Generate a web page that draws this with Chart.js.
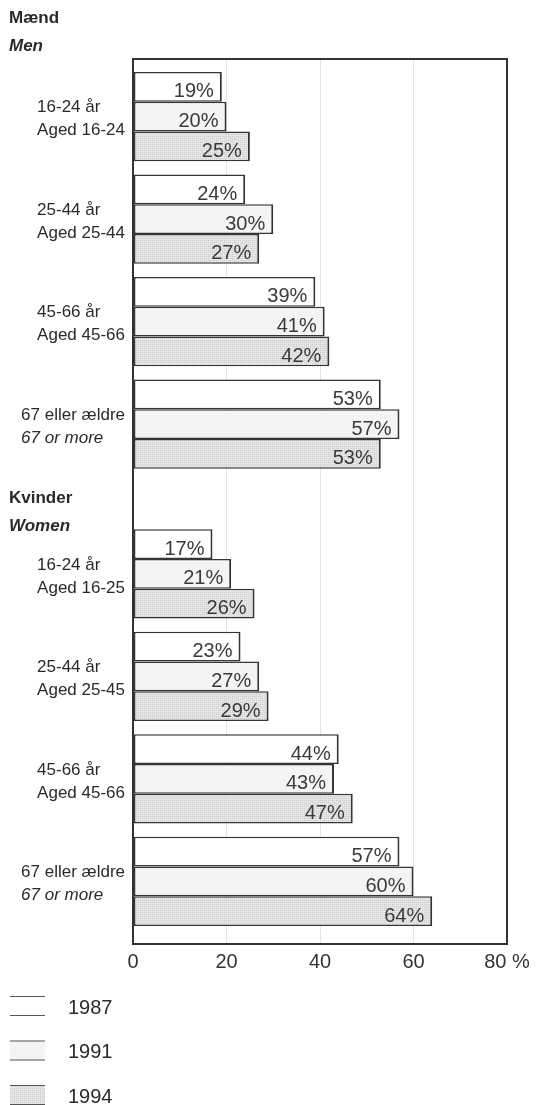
<!DOCTYPE html>
<html>
<head>
<meta charset="utf-8">
<title>Mænd / Kvinder 1987-1994</title>
<script src="https://cdn.jsdelivr.net/npm/chart.js@4.4.1/dist/chart.umd.min.js"></script>
<style>
  html, body { margin: 0; padding: 0; background: #fff; }
</style>
</head>
<body>
<canvas id="surveyChart" width="539" height="1105"></canvas>
<script>
// chart data
const sectionTitles = ["Mænd", "Kvinder"];
const sectionSubtitles = ["Men", "Women"];
const groupLabelsDa = ["16-24 år", "25-44 år", "45-66 år", "67 eller ældre",
                       "16-24 år", "25-44 år", "45-66 år", "67 eller ældre"];
const groupLabelsEn = ["Aged 16-24", "Aged 25-44", "Aged 45-66", "67 or more",
                       "Aged 16-25", "Aged 25-45", "Aged 45-66", "67 or more"];
const years = ["1987", "1991", "1994"];
const values1987 = [19, 24, 39, 53, 17, 23, 44, 57];
const values1991 = [20, 30, 41, 57, 21, 27, 43, 60];
const values1994 = [25, 27, 42, 53, 26, 29, 47, 64];
const xTickValues = [0, 20, 40, 60, 80];

// layout / style
const FONT = "'Liberation Sans', Arial, Helvetica, sans-serif";
const GROUPS_PER_SECTION = 4;
const SECTION_GAP = 0.46;          // extra room for the "Kvinder / Women" heading
const italicEnglishRows = new Set([3, 7]);

function slotOf(i) {
  return i < GROUPS_PER_SECTION ? i : i + SECTION_GAP;
}

function dotPattern() {
  const c = document.createElement("canvas");
  c.width = 2;
  c.height = 2;
  const g = c.getContext("2d");
  g.fillStyle = "#e5e5e5";
  g.fillRect(0, 0, 2, 2);
  g.fillStyle = "#cdcdcd";
  g.fillRect(0, 0, 1, 1);
  return g.createPattern(c, "repeat");
}

const fills = ["#ffffff", "#f4f4f4", dotPattern()];
const seriesValues = [values1987, values1991, values1994];

const datasets = years.map((year, k) => ({
  label: year,
  data: seriesValues[k].map((v, i) => ({ x: v, y: slotOf(i) })),
  backgroundColor: fills[k],
  borderColor: "#353535",
  borderWidth: { top: 1.5, bottom: 1.5, left: 2, right: 2 },
  borderSkipped: false,
  categoryPercentage: 0.87,
  barPercentage: 1.0,
}));

const groupSlots = groupLabelsDa.map((_, i) => slotOf(i));

const plotFrame = {
  id: "plotFrame",
  afterDatasetsDraw(chart) {
    const { ctx, chartArea: a } = chart;
    ctx.save();
    ctx.strokeStyle = "#333";
    ctx.lineWidth = 2;
    ctx.strokeRect(a.left, a.top, a.right - a.left, a.bottom - a.top);
    ctx.restore();
  }
};

const barValueLabels = {
  id: "barValueLabels",
  afterDatasetsDraw(chart) {
    const ctx = chart.ctx;
    ctx.save();
    ctx.font = "20px " + FONT;
    ctx.fillStyle = "#3a3a3a";
    ctx.textAlign = "right";
    ctx.textBaseline = "middle";
    chart.data.datasets.forEach((ds, di) => {
      chart.getDatasetMeta(di).data.forEach((bar, i) => {
        ctx.fillText(ds.data[i].x + "%", bar.x - 8, bar.y + 5);
      });
    });
    ctx.restore();
  }
};

const groupLabels = {
  id: "groupLabels",
  afterDraw(chart) {
    const { ctx, chartArea: a } = chart;
    const yScale = chart.scales.y;
    ctx.save();
    ctx.fillStyle = "#2a2a2a";
    ctx.textBaseline = "middle";
    ctx.textAlign = "left";
    const right = a.left - 8;
    groupLabelsDa.forEach((da, i) => {
      const py = yScale.getPixelForValue(groupSlots[i]) + 2.5;
      const enFont = (italicEnglishRows.has(i) ? "italic " : "") + "17px " + FONT;
      ctx.font = "17px " + FONT;
      const w1 = ctx.measureText(da).width;
      ctx.font = enFont;
      const w2 = ctx.measureText(groupLabelsEn[i]).width;
      const x = right - Math.max(w1, w2);
      ctx.font = "17px " + FONT;
      ctx.fillText(da, x, py - 11.5);
      ctx.font = enFont;
      ctx.fillText(groupLabelsEn[i], x, py + 11.5);
    });

    // section headings
    const headY = [
      a.top - 41,
      yScale.getPixelForValue(slotOf(GROUPS_PER_SECTION)) - 76
    ];
    sectionTitles.forEach((t, s) => {
      ctx.font = "bold 17px " + FONT;
      ctx.fillText(t, 9, headY[s]);
      ctx.font = "italic bold 17px " + FONT;
      ctx.fillText(sectionSubtitles[s], 9, headY[s] + 28);
    });

    // legend
    const lx = 10, lw = 35, lh = 20;
    chart.data.datasets.forEach((ds, k) => {
      const cy = a.bottom + 64 + k * 44.5;
      ctx.fillStyle = ds.backgroundColor;
      ctx.fillRect(lx, cy - 2 - lh / 2, lw, lh);
      ctx.strokeStyle = "#555";
      ctx.lineWidth = 1;
      ctx.beginPath();
      ctx.moveTo(lx, cy - 2 - lh / 2 + 0.5);
      ctx.lineTo(lx + lw, cy - 2 - lh / 2 + 0.5);
      ctx.moveTo(lx, cy - 2 + lh / 2 - 0.5);
      ctx.lineTo(lx + lw, cy - 2 + lh / 2 - 0.5);
      ctx.stroke();
      ctx.fillStyle = "#2a2a2a";
      ctx.font = "20px " + FONT;
      ctx.fillText(ds.label, 68, cy);
    });
    ctx.restore();
  }
};

new Chart(document.getElementById("surveyChart"), {
  type: "bar",
  data: { datasets },
  plugins: [plotFrame, barValueLabels, groupLabels],
  options: {
    indexAxis: "y",
    responsive: false,
    animation: false,
    layout: { padding: { left: 133, right: 32, top: 59, bottom: 0 } },
    plugins: {
      legend: { display: false },
      tooltip: { enabled: false }
    },
    scales: {
      y: {
        type: "linear",
        reverse: true,
        offset: false,
        min: -0.561,
        max: 8.07,
        display: false,
        afterBuildTicks(scale) {
          scale.ticks = groupSlots.map(v => ({ value: v }));
        }
      },
      x: {
        type: "linear",
        min: 0,
        max: 80,
        afterBuildTicks(scale) {
          scale.ticks = xTickValues.map(v => ({ value: v }));
        },
        afterFit(scale) {
          scale.height = 161;
        },
        grid: { color: "#e4e4e4", lineWidth: 1, drawTicks: false },
        border: { display: true, color: "#333", width: 2 },
        ticks: {
          padding: 6,
          color: "#333",
          font: { size: 20, family: FONT },
          callback: v => (v === 80 ? "80 %" : String(v))
        }
      }
    }
  }
});
</script>
</body>
</html>
